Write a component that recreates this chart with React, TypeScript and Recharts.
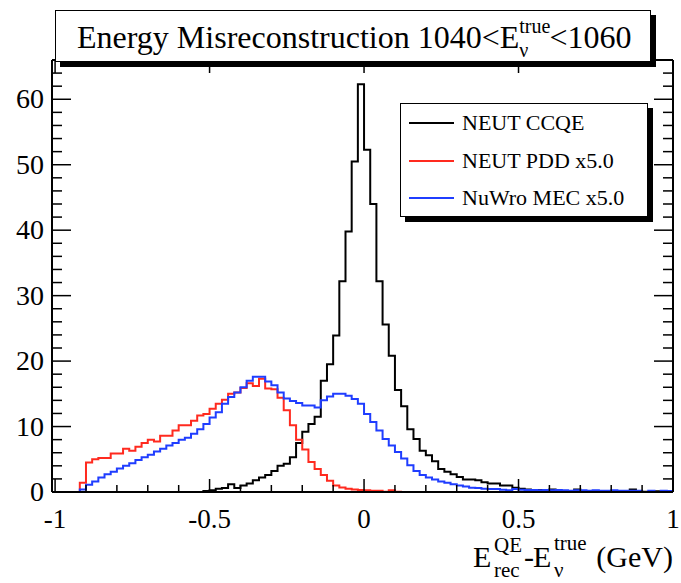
import { ComposedChart, Line, XAxis, YAxis } from 'recharts';

// bin contents, 100 bins of 0.02 GeV from -1 to 1
const ccqe = [
    0, 0, 0, 0, 0, 0, 0, 0, 0, 0,
    0, 0, 0, 0, 0, 0, 0, 0, 0, 0,
    0, 0, 0, 0, 0.15, 0.25, 0.5, 0.6, 1.2, 0.6,
    1.0, 1.3, 1.8, 2.2, 2.6, 3.2, 4.0, 4.3, 5.3, 7.5,
    9.2, 10.4, 11.5, 17.0, 19.5, 23.9, 32.2, 39.8, 50.5, 62.3,
    52.3, 44.0, 32.2, 25.6, 20.8, 15.6, 13.1, 9.6, 8.1, 6.3,
    5.6, 4.7, 3.5, 3.1, 2.7, 2.3, 1.9, 1.9, 1.8, 1.5,
    1.3, 1.3, 1.0, 1.0, 0.65, 0.5, 0.4, 0.3, 0.3, 0.2,
    0.4, 0.1, 0.1, 0.1, 0.4, 0.1, 0.05, 0.05, 0.1, 0.05,
    0.05, 0.1, 0.1, 0.4, 0.1, 0.05, 0.05, 0.1, 0.05, 0.05,
];

const pdd = [
    0, 0, 0, 0, 1.4, 4.5, 5.0, 5.2, 5.2, 5.9,
    5.9, 6.6, 6.3, 6.9, 7.5, 8.0, 7.7, 8.6, 8.6, 9.4,
    10.2, 10.2, 10.9, 11.7, 11.9, 12.7, 13.5, 14.1, 15.0, 15.2,
    15.9, 16.6, 16.2, 17.3, 15.8, 15.7, 14.4, 12.5, 10.2, 8.0,
    6.5, 4.6, 3.5, 2.6, 1.7, 1.0, 0.7, 0.5, 0.4, 0.3,
    0.25, 0.2, 0.2, 0.05, 0.25, 0.05, 0, 0, 0, 0,
    0, 0, 0, 0, 0, 0, 0, 0, 0, 0,
    0, 0, 0, 0, 0, 0, 0, 0, 0, 0,
    0, 0, 0, 0, 0, 0, 0, 0, 0, 0,
    0, 0, 0, 0, 0, 0, 0, 0, 0, 0,
];

const mec = [
    0, 0, 0, 0, 0.4, 1.1, 1.6, 2.2, 2.7, 3.1,
    3.6, 4.0, 4.4, 4.9, 5.3, 5.7, 6.2, 6.6, 7.1, 7.5,
    8.0, 8.3, 8.9, 9.6, 10.4, 11.4, 12.2, 13.5, 14.5, 15.2,
    16.0, 17.0, 17.6, 17.6, 16.9, 16.3, 15.2, 14.3, 13.9, 13.6,
    13.2, 13.2, 12.9, 14.0, 14.6, 15.0, 15.0, 14.7, 14.2, 13.5,
    11.9, 10.7, 9.4, 8.1, 7.1, 6.1, 5.1, 4.1, 3.2, 2.6,
    2.2, 1.9, 1.6, 1.4, 1.2, 1.0, 0.85, 0.65, 0.6, 0.5,
    0.45, 0.45, 0.35, 0.25, 0.45, 0.35, 0.3, 0.3, 0.25, 0.3,
    0.25, 0.3, 0.25, 0.2, 0.25, 0.25, 0.2, 0.25, 0.2, 0.2,
    0.25, 0.2, 0.2, 0.2, 0.2, 0, 0.2, 0, 0.2, 0.15,
];

const xMin = -1;
const binWidth = 0.02;
const xTicks = [-1, -0.9, -0.8, -0.7, -0.6, -0.5, -0.4, -0.3, -0.2, -0.1, 0, 0.1, 0.2, 0.3, 0.4, 0.5, 0.6, 0.7, 0.8, 0.9, 1];
const xLabels = [-1, -0.5, 0, 0.5, 1];
const yTicks = [0, 2, 4, 6, 8, 10, 12, 14, 16, 18, 20, 22, 24, 26, 28, 30, 32, 34, 36, 38, 40, 42, 44, 46, 48, 50, 52, 54, 56, 58, 60, 62, 64];
const yLabels = [0, 10, 20, 30, 40, 50, 60];

const seriesNames = ['NEUT CCQE', 'NEUT PDD x5.0', 'NuWro MEC x5.0'];
const seriesColors = ['#000000', '#ff2a1f', '#1f3dff'];

const FONT = "'Liberation Serif', 'Times New Roman', serif";
const serif = { fontFamily: FONT };

// step outline: one point per bin low edge + closing point at the upper edge
const rows = ccqe.map((v, i) => ({ x: +(xMin + i * binWidth).toFixed(2), ccqe: v, pdd: pdd[i], mec: mec[i] }));
rows.push({ x: 1, ccqe: ccqe[99], pdd: pdd[99], mec: mec[99] });

const isLabel = (list: number[], v: number) => list.some(m => Math.abs(m - v) < 1e-6);

function BottomTick({ x, y, payload }: any) {
    const major = isLabel(xLabels, payload.value);
    return (
        <g>
            <line x1={x} x2={x} y1={y} y2={y - (major ? 13 : 7)} stroke="#000" strokeWidth={1.5} />
            {major && (
                <text x={x} y={y + 36} textAnchor="middle" fontSize={27} style={serif} fill="#000">
                    {String(payload.value)}
                </text>
            )}
        </g>
    );
}

function TopTick({ x, y, payload }: any) {
    const major = isLabel(xLabels, payload.value);
    return <line x1={x} x2={x} y1={y} y2={y + (major ? 13 : 7)} stroke="#000" strokeWidth={1.5} />;
}

function LeftTick({ x, y, payload }: any) {
    const major = isLabel(yLabels, payload.value);
    return (
        <g>
            <line x1={x} x2={x + (major ? 19 : 10)} y1={y} y2={y} stroke="#000" strokeWidth={1.5} />
            {major && (
                <text x={x - 8} y={y + 9} textAnchor="end" fontSize={28} style={serif} fill="#000">
                    {String(payload.value)}
                </text>
            )}
        </g>
    );
}

function RightTick({ x, y, payload }: any) {
    const major = isLabel(yLabels, payload.value);
    return <line x1={x} x2={x - (major ? 19 : 10)} y1={y} y2={y} stroke="#000" strokeWidth={1.5} />;
}

const axisLine = { stroke: '#000', strokeWidth: 2 };

export default function App() {
    return (
        <div style={{ position: 'absolute', left: 0, top: 0, width: 681, height: 583, background: '#fff' }}>
            <ComposedChart width={681} height={583} data={rows} margin={{ top: 0, right: 0, bottom: 0, left: 0 }}>
                <XAxis dataKey="x" type="number" domain={[-1.01, 1]} ticks={xTicks} interval={0}
                    height={91} tickSize={0} tickMargin={0} tickLine={false} axisLine={axisLine}
                    tick={<BottomTick />} allowDataOverflow />
                <XAxis xAxisId="top" orientation="top" dataKey="x" type="number" domain={[-1.01, 1]} ticks={xTicks} interval={0}
                    height={60} tickSize={0} tickMargin={0} tickLine={false} axisLine={axisLine}
                    tick={<TopTick />} allowDataOverflow />
                <YAxis type="number" domain={[0, 66]} ticks={yTicks} interval={0}
                    width={52} tickSize={0} tickMargin={0} tickLine={false} axisLine={axisLine}
                    tick={<LeftTick />} allowDataOverflow />
                <YAxis yAxisId="right" orientation="right" type="number" domain={[0, 66]} ticks={yTicks} interval={0}
                    width={8} tickSize={0} tickMargin={0} tickLine={false} axisLine={axisLine}
                    tick={<RightTick />} allowDataOverflow />
                <Line type="stepAfter" dataKey="ccqe" stroke={seriesColors[0]} strokeWidth={2} dot={false} isAnimationActive={false} />
                <Line type="stepAfter" dataKey="pdd" stroke={seriesColors[1]} strokeWidth={2} dot={false} isAnimationActive={false} />
                <Line type="stepAfter" dataKey="mec" stroke={seriesColors[2]} strokeWidth={2} dot={false} isAnimationActive={false} />
            </ComposedChart>

            {/* title pave */}
            <div style={{
                position: 'absolute', left: 55, top: 10, width: 596, height: 52, boxSizing: 'border-box',
                border: '1px solid #000', background: '#fff', boxShadow: '5px 5px 0 #000',
            }} />

            {/* legend */}
            <div style={{
                position: 'absolute', left: 400, top: 103, width: 248, height: 114, boxSizing: 'border-box',
                border: '1px solid #000', background: '#fff', boxShadow: '5px 5px 0 #000',
            }}>
                {seriesNames.map((name, i) => (
                    <div key={name} style={{ position: 'absolute', left: 8, top: 4 + i * 37.5, height: 30, display: 'flex', alignItems: 'center' }}>
                        <div style={{ width: 45, height: 2, background: seriesColors[i] }} />
                        <span style={{ marginLeft: 8, fontFamily: FONT, fontSize: 22, color: '#000', whiteSpace: 'nowrap' }}>{name}</span>
                    </div>
                ))}
            </div>

            <svg width={681} height={583} style={{ position: 'absolute', left: 0, top: 0, pointerEvents: 'none' }}>
                <text x={77} y={48} fontSize={32} fill="#000" style={serif}>
                    Energy Misreconstruction 1040&lt;E
                    <tspan dy={-15} fontSize={20}>true</tspan>
                    <tspan dx={-31} dy={24} fontSize={20}>ν</tspan>
                    <tspan dx={21} dy={-9}>&lt;1060</tspan>
                </text>

                <g fill="#000" style={serif}>
                    <text x={473} y={567} fontSize={30}>E</text>
                    <text x={494} y={552} fontSize={21}>QE</text>
                    <text x={494} y={577} fontSize={21}>rec</text>
                    <text x={524} y={567} fontSize={30}>-</text>
                    <text x={533} y={567} fontSize={30}>E</text>
                    <text x={554} y={550} fontSize={21}>true</text>
                    <text x={554} y={577} fontSize={21}>ν</text>
                    <text x={673} y={567} fontSize={30} textAnchor="end">(GeV)</text>
                </g>
            </svg>
        </div>
    );
}
